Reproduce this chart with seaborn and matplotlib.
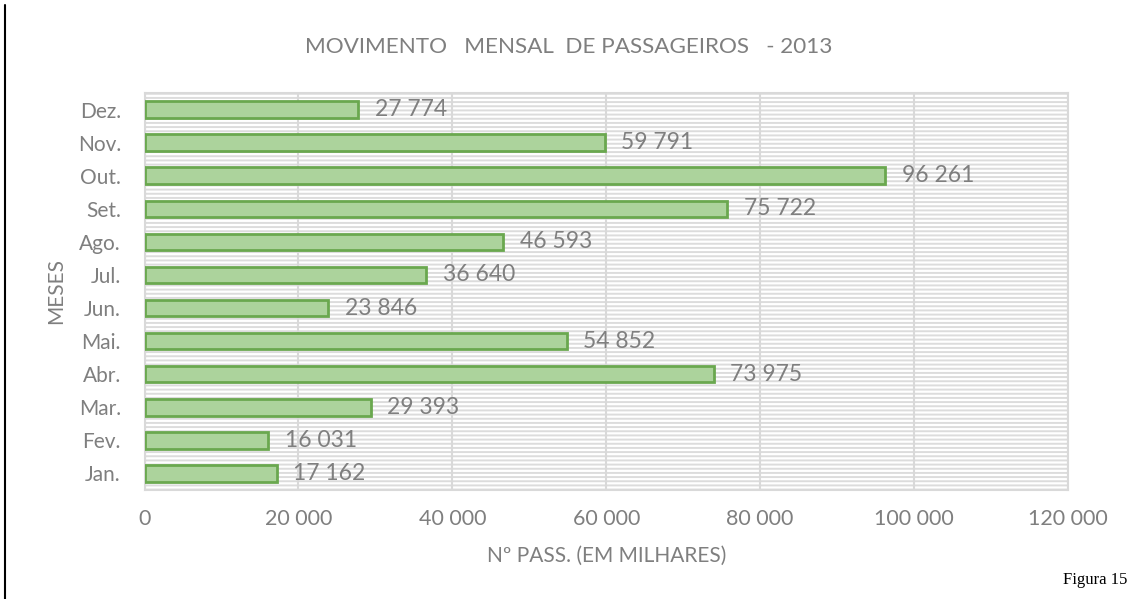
import matplotlib
matplotlib.use("Agg")
import matplotlib.pyplot as plt
import seaborn as sns
import pandas as pd
from matplotlib.lines import Line2D
from matplotlib.patches import Rectangle

months = ["Jan.", "Fev.", "Mar.", "Abr.", "Mai.", "Jun.", "Jul.", "Ago.", "Set.", "Out.", "Nov.", "Dez."]
passengers = [17162, 16031, 29393, 73975, 54852, 23846, 36640, 46593, 75722, 96261, 59791, 27774]
xticks = [0, 20000, 40000, 60000, 80000, 100000, 120000]

sns.set_theme(style="white")
plt.rcParams["font.family"] = ["Lato", "DejaVu Sans"]
plt.rcParams["hatch.linewidth"] = 1.4

df = pd.DataFrame({"mes": months, "pass": passengers})

fig = plt.figure(figsize=(11.3, 5.99), dpi=100)
ax = fig.add_axes([144.5 / 1130, 1 - 490 / 599, (1068 - 144.5) / 1130, (490 - 93) / 599])

# striped background (Excel narrow horizontal pattern)
bg = Rectangle((0, 0), 1, 1, transform=ax.transAxes, facecolor="white",
               edgecolor="#dcdcdc", linewidth=0, hatch="----", zorder=0)
ax.add_patch(bg)

sns.barplot(data=df, y="mes", x="pass", order=months[::-1], orient="h",
            color="#acd39c", edgecolor="#6aa84f", linewidth=2, width=0.5,
            saturation=1, ax=ax, zorder=3)

grey = "#7f7f7f"
for c in ax.containers:
    ax.bar_label(c, labels=[f"{int(v):,}".replace(",", " ") for v in c.datavalues],
                 padding=12, color=grey, fontsize=16.5)

ax.set_xlim(0, 120000)
ax.set_xticks(xticks)
ax.set_xticklabels([f"{t:,}".replace(",", " ") for t in xticks], color=grey, fontsize=15.5)
ax.tick_params(axis="y", labelcolor=grey, labelsize=15, length=0, pad=17)
ax.tick_params(axis="x", length=0, pad=14)
ax.xaxis.grid(True, color="#d9d9d9", linewidth=1.5, zorder=1)
ax.set_axisbelow(True)
for s in ax.spines.values():
    s.set_color("#d9d9d9")
    s.set_linewidth(1.5)

ax.set_xlabel("Nº PASS. (EM MILHARES)", color=grey, fontsize=15, labelpad=12)
ax.set_ylabel("MESES", color=grey, fontsize=15, labelpad=8)
fig.text(569 / 1130, 1 - 47 / 599, "MOVIMENTO   MENSAL  DE PASSAGEIROS   - 2013",
         ha="center", va="center", color=grey, fontsize=16.2)
fig.text(1095 / 1130, 1 - 580 / 599, "Figura 15", ha="center", va="center",
         family="Liberation Serif", fontsize=12, color="black")
fig.add_artist(Line2D([5 / 1130, 5 / 1130], [0, 1 - 5 / 599], transform=fig.transFigure,
                      color="black", linewidth=1.5))

fig.savefig("out.png", dpi=100)
